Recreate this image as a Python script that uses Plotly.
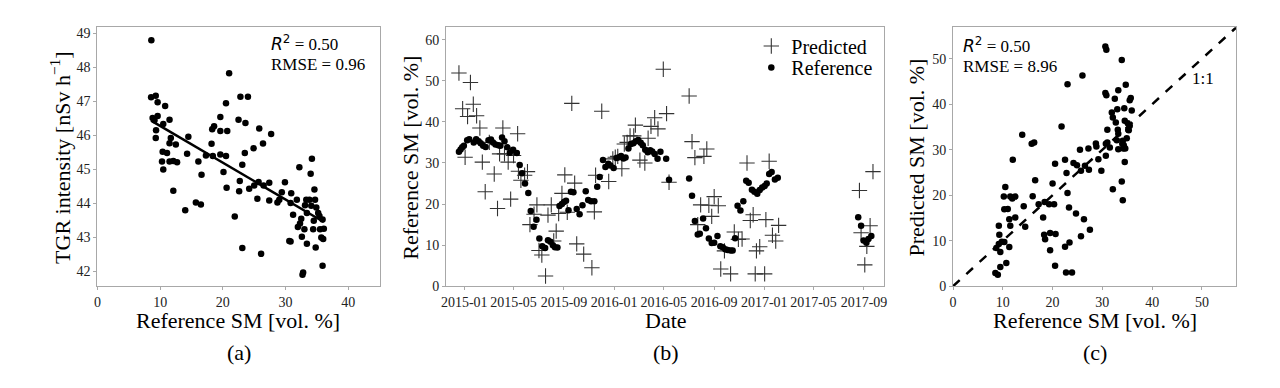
import numpy as np
import plotly.graph_objects as go

# ---------------- Panel (a): Reference SM vs TGR intensity ----------------
a_ref_sm = [8.6, 8.56, 9.3, 9.6, 8.8, 9.1, 9.6, 9.35, 9.3, 10.8, 10.5, 11.5, 11.7, 11.5, 12.5,
            10.4, 11.1, 10.3, 11.5, 12.1, 12.7, 10.5, 12.1, 14.5, 14.3, 14.0, 16.1, 15.7, 16.5,
            16.6, 17.3, 18.2, 18.4, 18.3, 18.6, 19.6, 19.6, 19.6, 20.1, 20.5, 20.7, 20.5, 20.6,
            21.0, 21.9, 22.8, 22.5, 22.7, 22.6, 23.1, 23.1, 23.5, 23.6, 24.0, 24.2, 24.9, 25.0,
            25.5, 25.8, 26.4, 25.7, 26.1, 26.5, 27.4, 27.4, 27.7, 28.7, 29.0, 29.4, 29.9, 30.9,
            30.8, 31.2, 31.8, 30.6, 30.8, 32.2, 31.96, 32.3, 32.5, 32.6, 32.8, 32.7, 33.0, 33.1,
            33.3, 33.4, 33.4, 33.8, 34.0, 34.2, 34.1, 34.4, 34.5, 34.6, 34.7, 34.8, 34.9, 35.2,
            35.4, 35.5, 35.7, 36.0, 35.9, 36.1, 35.9]
a_tgr = [48.79, 47.12, 47.16, 46.97, 46.51, 46.44, 46.57, 46.15, 45.92, 46.86, 46.33, 46.46, 45.92,
         45.77, 45.73, 45.52, 45.48, 45.23, 45.23, 45.25, 45.21, 45.0, 44.37, 45.96, 45.46, 43.8,
         45.23, 44.03, 43.97, 44.84, 45.41, 45.75, 45.39, 46.18, 46.27, 46.54, 46.13, 45.44, 44.92,
         46.94, 46.13, 45.39, 44.46, 47.82, 43.62, 47.13, 46.46, 44.66, 44.36, 45.14, 42.69, 45.48,
         46.36, 47.13, 44.43, 45.62, 44.53, 44.14, 46.2, 45.76, 44.63, 42.52, 44.53, 44.61, 44.09,
         46.04, 44.03, 44.11, 44.33, 44.62, 44.3, 44.01, 43.67, 44.11, 42.9, 42.88, 45.06, 43.31,
         43.41, 43.55, 43.02, 41.97, 41.91, 43.24, 43.95, 44.11, 42.82, 43.72, 44.11, 44.87, 45.31,
         43.93, 43.24, 43.49, 44.41, 44.11, 42.71, 43.88, 43.72, 43.63, 43.24, 43.0, 42.96, 43.53,
         43.26, 42.17]

# ---------------- Panel (b): time series ----------------
ref_dates = ["2014-12-19", "2014-12-23", "2014-12-27", "2014-12-31", "2015-01-08", "2015-01-13",
             "2015-01-24", "2015-01-30", "2015-02-05", "2015-02-10", "2015-02-16", "2015-02-22",
             "2015-03-01", "2015-03-07", "2015-03-12", "2015-03-18", "2015-03-25", "2015-03-30",
             "2015-04-03", "2015-04-09", "2015-04-16", "2015-04-22", "2015-04-30", "2015-05-09",
             "2015-05-16", "2015-05-22", "2015-05-29", "2015-06-06", "2015-06-12", "2015-06-19",
             "2015-06-26", "2015-07-03", "2015-07-10", "2015-07-17", "2015-07-24", "2015-07-30",
             "2015-08-05", "2015-08-10", "2015-08-16", "2015-08-21", "2015-08-27", "2015-09-01",
             "2015-09-06", "2015-09-12", "2015-09-18", "2015-09-24", "2015-10-02", "2015-10-09",
             "2015-10-16", "2015-10-24", "2015-10-30", "2015-11-06", "2015-11-14", "2015-11-21",
             "2015-11-27", "2015-12-05", "2015-12-11", "2015-12-18", "2015-12-23", "2015-12-31",
             "2016-01-07", "2016-01-13", "2016-01-18", "2016-01-24", "2016-01-29", "2016-02-05",
             "2016-02-11", "2016-02-17", "2016-02-23", "2016-02-29", "2016-03-06", "2016-03-11",
             "2016-03-17", "2016-03-23", "2016-03-29", "2016-04-03", "2016-04-09", "2016-04-16",
             "2016-04-23", "2016-05-07", "2016-05-14", "2016-07-02", "2016-07-09", "2016-07-16",
             "2016-07-23", "2016-07-28", "2016-08-05", "2016-08-12", "2016-08-19", "2016-08-26",
             "2016-09-01", "2016-09-09", "2016-09-16", "2016-09-22", "2016-09-28", "2016-10-04",
             "2016-10-11", "2016-10-16", "2016-10-22", "2016-10-28", "2016-11-04", "2016-11-11",
             "2016-11-18", "2016-11-24", "2016-12-02", "2016-12-08", "2016-12-15", "2016-12-21",
             "2016-12-27", "2017-01-02", "2017-01-07", "2017-01-13", "2017-01-19", "2017-01-27",
             "2017-02-03", "2017-08-18", "2017-08-25", "2017-08-31", "2017-09-07", "2017-09-12",
             "2017-09-19"]
ref_sm = [32.7, 33.3, 33.8, 34.2, 35.5, 35.8, 35.0, 35.8, 35.3, 34.8, 34.2, 33.9, 35.5, 35.7, 35.0,
          34.5, 34.3, 34.2, 36.2, 35.3, 33.8, 32.5, 33.2, 32.4, 29.5, 27.5, 25.0, 22.7, 18.3, 14.5,
          16.2, 11.6, 9.7, 9.3, 11.2, 10.8, 10.0, 9.5, 9.4, 19.5, 20.0, 20.5, 20.8, 18.5, 23.0, 22.9,
          18.8, 17.5, 19.7, 23.1, 21.0, 20.7, 20.7, 24.2, 26.6, 30.7, 29.0, 29.8, 29.4, 28.8, 31.2,
          31.4, 31.7, 31.1, 31.3, 33.5, 34.6, 34.8, 35.3, 35.6, 34.9, 34.3, 33.2, 32.6, 33.1, 32.8,
          32.2, 31.0, 32.7, 31.0, 25.9, 26.2, 22.0, 15.9, 12.6, 12.8, 16.5, 14.1, 11.6, 10.5, 10.6,
          12.2, 9.7, 9.5, 9.0, 8.8, 8.7, 8.7, 11.7, 19.6, 18.4, 20.7, 25.7, 25.2, 23.5, 23.0, 22.5,
          23.4, 24.0, 24.4, 25.0, 27.3, 27.8, 26.0, 26.4, 16.8, 14.7, 11.1, 10.6, 11.5, 12.2]

pred_dates = ["2014-12-19", "2014-12-28", "2015-01-03", "2015-01-09", "2015-01-16", "2015-01-23",
              "2015-01-31", "2015-02-08", "2015-02-14", "2015-02-21", "2015-03-03", "2015-03-15",
              "2015-03-23", "2015-03-28", "2015-04-05", "2015-04-09", "2015-04-18", "2015-04-24",
              "2015-05-01", "2015-05-11", "2015-05-13", "2015-05-19", "2015-05-28", "2015-06-04",
              "2015-06-10", "2015-06-20", "2015-06-27", "2015-07-02", "2015-07-09", "2015-07-18",
              "2015-07-24", "2015-08-01", "2015-08-07", "2015-08-13", "2015-08-19", "2015-08-27",
              "2015-09-03", "2015-09-09", "2015-09-20", "2015-09-27", "2015-10-02", "2015-10-19",
              "2015-11-08", "2015-11-14", "2015-11-17", "2015-12-02", "2015-12-19", "2015-12-29",
              "2016-01-04", "2016-01-10", "2016-01-20", "2016-01-26", "2016-02-02", "2016-02-09",
              "2016-02-18", "2016-02-22", "2016-03-04", "2016-03-16", "2016-03-24", "2016-03-31",
              "2016-04-09", "2016-04-17", "2016-04-30", "2016-05-08", "2016-05-14", "2016-07-02",
              "2016-07-09", "2016-07-16", "2016-07-23", "2016-07-30", "2016-08-07", "2016-08-14",
              "2016-08-19", "2016-08-26", "2016-09-01", "2016-09-11", "2016-09-17", "2016-09-26",
              "2016-10-11", "2016-10-20", "2016-10-30", "2016-11-08", "2016-11-20", "2016-11-28",
              "2016-12-05", "2016-12-10", "2016-12-13", "2016-12-21", "2017-01-02", "2017-01-05",
              "2017-01-13", "2017-01-21", "2017-01-29", "2017-02-05", "2017-08-21", "2017-08-25",
              "2017-09-03", "2017-09-08", "2017-09-16", "2017-09-23"]
pred_sm = [51.9, 43.2, 31.4, 41.3, 49.6, 44.3, 41.5, 38.5, 30.2, 23.0, 35.0, 27.3, 18.9, 32.2, 38.5,
           32.2, 30.2, 21.2, 31.8, 37.1, 28.0, 25.8, 27.0, 27.9, 15.0, 17.5, 19.8, 8.7, 7.6, 2.5,
           17.3, 19.8, 11.0, 13.4, 17.7, 22.6, 27.1, 18.0, 44.5, 25.1, 10.3, 7.8, 4.5, 18.1, 27.0,
           42.6, 25.5, 31.0, 31.4, 31.6, 28.6, 34.6, 35.0, 36.6, 36.6, 39.2, 30.7, 30.0, 36.0, 38.9,
           41.0, 38.3, 52.8, 42.0, 25.3, 46.3, 35.2, 31.3, 15.0, 19.8, 31.6, 33.4, 19.7, 17.0, 21.8,
           19.6, 4.2, 8.6, 3.0, 13.2, 11.4, 11.5, 30.0, 16.0, 17.4, 3.0, 8.6, 9.6, 3.0, 16.2, 30.4,
           12.4, 11.0, 14.8, 23.3, 13.0, 5.2, 9.7, 14.7, 27.9]

# ---------------- Panel (c): Reference vs Predicted ----------------
c_ref = [30.6, 30.8, 33.9, 26.0, 23.0, 34.7, 33.2, 30.6, 30.8, 21.8, 13.9, 15.8, 16.3, 12.0, 32.5,
         35.7, 35.5, 31.9, 33.0, 34.4, 35.9, 32.1, 32.7, 34.5, 35.1, 35.5, 33.1, 35.2, 31.0, 35.3,
         33.2, 32.9, 34.9, 34.1, 34.0, 31.0, 30.7, 31.5, 33.2, 34.2, 34.6, 34.3, 28.7, 28.8, 27.2,
         25.5, 29.2, 30.7, 29.8, 27.3, 25.7, 24.2, 24.9, 26.5, 20.5, 22.5, 22.8, 32.1, 33.9, 34.1,
         34.5, 16.5, 10.5, 10.2, 11.5, 12.5, 11.9, 16.0, 11.0, 10.3, 11.3, 12.5, 11.5, 14.2, 14.5,
         17.2, 18.4, 19.3, 20.3, 20.0, 23.0, 23.3, 18.1, 24.7, 26.3, 27.5, 25.7, 18.3, 18.5, 19.5,
         20.6, 19.5, 20.5, 22.5, 23.4, 22.7, 23.9, 9.2, 9.3, 9.2, 8.7, 9.8, 9.5, 10.3, 11.3, 10.7,
         9.5, 8.5, 9.0]
c_pred = [52.7, 52.0, 49.7, 46.3, 44.4, 44.3, 43.1, 42.5, 42.0, 35.1, 33.3, 31.3, 31.6, 27.8, 41.2,
          41.4, 40.9, 38.2, 38.9, 39.1, 38.6, 37.1, 36.0, 36.4, 35.8, 35.3, 34.4, 34.4, 34.4, 34.3,
          33.5, 32.1, 32.5, 32.0, 31.3, 31.6, 31.3, 30.5, 30.1, 30.3, 30.3, 31.0, 31.4, 30.7, 30.3,
          30.0, 27.9, 28.7, 25.4, 25.6, 25.4, 27.1, 26.6, 26.5, 26.9, 27.8, 24.9, 21.3, 23.0, 18.9,
          27.3, 23.3, 21.8, 19.7, 19.7, 19.7, 19.3, 19.8, 17.0, 16.9, 14.7, 15.1, 13.3, 17.6, 13.1,
          18.0, 18.5, 18.0, 18.0, 22.6, 20.5, 17.3, 15.1, 16.0, 14.7, 12.4, 11.0, 11.3, 10.3, 11.7,
          11.5, 7.9, 4.5, 8.7, 9.6, 3.0, 3.0, 13.3, 11.3, 9.3, 8.4, 9.8, 7.5, 9.7, 8.6, 5.1,
          4.2, 2.9, 2.5]

one_to_one = [0, 57]

SERIF = "Liberation Serif"
W, H = 1280, 388


def px(x):
    return x / W


def py(y):
    return 1 - y / H


fig = go.Figure()

# (a) scatter + fitted line
fig.add_trace(go.Scatter(x=a_ref_sm, y=a_tgr, mode="markers", xaxis="x", yaxis="y",
                         marker=dict(color="black", size=6.5), showlegend=False))
coef = np.polyfit(a_ref_sm, a_tgr, 1)
fx = np.array([min(a_ref_sm), max(a_ref_sm)])
fig.add_trace(go.Scatter(x=fx, y=np.polyval(coef, fx), mode="lines", xaxis="x", yaxis="y",
                         line=dict(color="black", width=2.5), showlegend=False))

# (b) time series
fig.add_trace(go.Scatter(x=pred_dates, y=pred_sm, mode="markers", name="Predicted",
                         xaxis="x2", yaxis="y2", legend="legend",
                         marker=dict(symbol="cross-thin-open", size=11, color="#333333",
                                     line=dict(color="#333333", width=1.1))))
fig.add_trace(go.Scatter(x=ref_dates, y=ref_sm, mode="markers", name="Reference",
                         xaxis="x2", yaxis="y2", legend="legend2",
                         marker=dict(color="black", size=6.5)))

# (c) scatter + 1:1
fig.add_trace(go.Scatter(x=one_to_one, y=one_to_one, mode="lines", xaxis="x3", yaxis="y3",
                         line=dict(color="black", width=2.5, dash="dash"), showlegend=False))
fig.add_trace(go.Scatter(x=c_ref, y=c_pred, mode="markers", xaxis="x3", yaxis="y3",
                         marker=dict(color="black", size=6.5), showlegend=False))

axis_common = dict(showline=True, mirror=True, linecolor="#a8a8a8", linewidth=1.2,
                   ticks="outside", ticklen=3, tickcolor="#a8a8a8", showgrid=False,
                   zeroline=False, tickfont=dict(family=SERIF, size=14, color="#222"))

legend_common = dict(xanchor="left", yanchor="middle", bgcolor="rgba(0,0,0,0)",
                     font=dict(family=SERIF, size=20, color="black"), itemsizing="trace",
                     borderwidth=0)

ytop, ybot = py(27), py(292)
fig.update_layout(
    width=W, height=H, margin=dict(l=0, r=0, t=0, b=0),
    paper_bgcolor="white", plot_bgcolor="white",
    xaxis=dict(domain=[px(93), px(377)], range=[0, 45], dtick=10, anchor="y", **axis_common),
    yaxis=dict(domain=[ybot, ytop], range=[41.57, 49.17], dtick=1, anchor="x", **axis_common),
    xaxis2=dict(domain=[px(444), px(885)], range=["2014-11-18", "2017-10-21"], type="date",
                tick0="2015-01-01", dtick="M4", tickformat="%Y-%m", anchor="y2", **axis_common),
    yaxis2=dict(domain=[ybot, ytop], range=[0, 63], dtick=10, anchor="x2", **axis_common),
    xaxis3=dict(domain=[px(954), px(1239)], range=[0, 56.9], dtick=10, anchor="y3", **axis_common),
    yaxis3=dict(domain=[ybot, ytop], range=[0, 56.9], dtick=10, anchor="x3", **axis_common),
    legend=dict(x=px(751), y=py(46), **legend_common),
    legend2=dict(x=px(751), y=py(68), **legend_common),
)

ann = []


def add_text(x, y, text, size, angle=0, xanchor="center"):
    ann.append(dict(x=px(x), y=py(y), xref="paper", yref="paper", text=text, showarrow=False,
                    textangle=angle, xanchor=xanchor, yanchor="middle",
                    font=dict(family=SERIF, size=size, color="black")))


R2 = '<span style="font-family:DejaVu Sans"><i>R</i><sup>2</sup></span> = 0.50'
# axis titles
add_text(56, 160, "TGR intensity [nSv h<sup>\u22121</sup>]", 22, angle=-90)
add_text(234, 327, "Reference SM [vol. %]", 22)
add_text(408, 160, "Reference SM [vol. %]", 22, angle=-90)
add_text(665, 327, "Date", 22)
add_text(917, 160, "Predicted SM [vol. %]", 22, angle=-90)
add_text(1097, 327, "Reference SM [vol. %]", 22)
# panel labels
add_text(235, 360, "(a)", 22)
add_text(665, 360, "(b)", 22)
add_text(1097, 360, "(c)", 22)
# stats
add_text(266, 43, R2, 17, xanchor="left")
add_text(266, 65, "RMSE = 0.96", 17, xanchor="left")
add_text(962, 45, R2, 17, xanchor="left")
add_text(962, 67, "RMSE = 8.96", 17, xanchor="left")
# 1:1 label
ann.append(dict(x=50.3, y=45.6, xref="x3", yref="y3", text="1:1", showarrow=False,
                font=dict(family=SERIF, size=17, color="black")))
fig.update_layout(annotations=ann)

fig.write_html("out.html", config={"displayModeBar": False},
               post_script="document.body.style.margin='0';document.body.style.overflow='hidden';")
